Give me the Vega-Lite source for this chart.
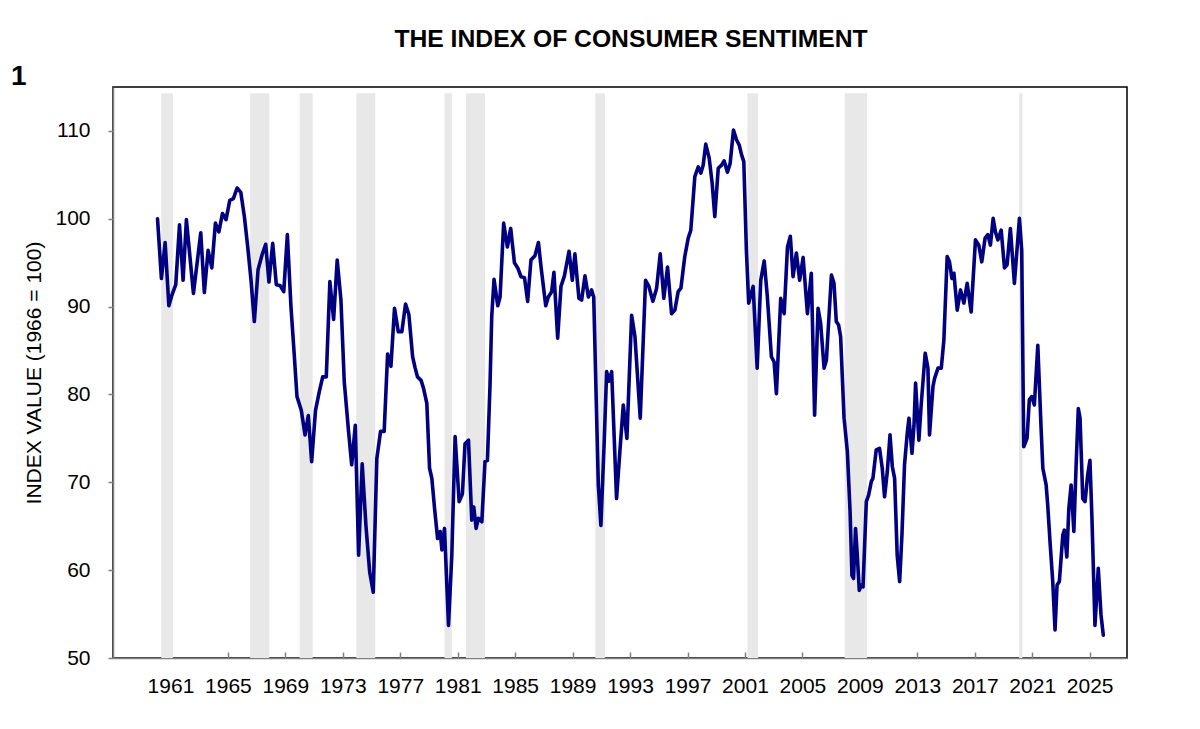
{
  "$schema": "https://vega.github.io/schema/vega-lite/v6.json",
  "background": "white",
  "padding": {"left": 10, "top": 26, "right": 5, "bottom": 5},
  "datasets": {
    "recessions": [
      {"start": 1960.36, "end": 1961.17},
      {"start": 1966.55, "end": 1967.88},
      {"start": 1970.0, "end": 1970.9},
      {"start": 1973.94, "end": 1975.26},
      {"start": 1980.08, "end": 1980.59},
      {"start": 1981.58, "end": 1982.9},
      {"start": 1990.58, "end": 1991.25},
      {"start": 2001.17, "end": 2001.92},
      {"start": 2007.94, "end": 2009.5},
      {"start": 2020.09, "end": 2020.32}
    ],
    "sentiment": [
      {"year": 1960.1, "value": 100.0},
      {"year": 1960.37, "value": 93.2},
      {"year": 1960.63, "value": 97.3},
      {"year": 1960.89, "value": 90.1},
      {"year": 1961.12, "value": 91.4},
      {"year": 1961.37, "value": 92.5},
      {"year": 1961.63, "value": 99.3},
      {"year": 1961.88, "value": 93.0},
      {"year": 1962.11, "value": 99.9},
      {"year": 1962.6, "value": 91.5},
      {"year": 1963.11, "value": 98.4},
      {"year": 1963.36, "value": 91.6},
      {"year": 1963.62, "value": 96.4},
      {"year": 1963.88, "value": 94.4},
      {"year": 1964.13, "value": 99.5},
      {"year": 1964.37, "value": 98.5},
      {"year": 1964.62, "value": 100.6},
      {"year": 1964.87, "value": 99.9},
      {"year": 1965.13, "value": 102.1},
      {"year": 1965.38, "value": 102.3},
      {"year": 1965.64, "value": 103.5},
      {"year": 1965.9, "value": 103.0},
      {"year": 1966.15, "value": 100.2},
      {"year": 1966.38, "value": 96.8},
      {"year": 1966.61, "value": 93.0},
      {"year": 1966.84, "value": 88.3},
      {"year": 1967.1, "value": 94.2},
      {"year": 1967.38, "value": 95.9},
      {"year": 1967.63, "value": 97.1},
      {"year": 1967.86, "value": 92.8},
      {"year": 1968.12, "value": 97.2},
      {"year": 1968.37, "value": 92.5},
      {"year": 1968.63, "value": 92.4},
      {"year": 1968.89, "value": 91.7},
      {"year": 1969.14, "value": 98.2},
      {"year": 1969.39, "value": 90.0},
      {"year": 1969.6, "value": 85.0},
      {"year": 1969.81, "value": 79.75},
      {"year": 1970.11, "value": 78.2},
      {"year": 1970.37, "value": 75.4},
      {"year": 1970.6, "value": 77.6},
      {"year": 1970.83, "value": 72.35},
      {"year": 1971.1, "value": 78.2},
      {"year": 1971.36, "value": 80.3},
      {"year": 1971.6, "value": 82.0},
      {"year": 1971.85, "value": 82.0},
      {"year": 1972.1, "value": 92.85},
      {"year": 1972.36, "value": 88.55},
      {"year": 1972.61, "value": 95.3},
      {"year": 1972.87, "value": 90.75},
      {"year": 1973.1, "value": 81.5},
      {"year": 1973.4, "value": 75.8},
      {"year": 1973.62, "value": 72.0},
      {"year": 1973.87, "value": 76.5},
      {"year": 1974.1, "value": 61.7},
      {"year": 1974.35, "value": 72.1},
      {"year": 1974.61, "value": 65.1},
      {"year": 1974.87, "value": 59.8},
      {"year": 1975.12, "value": 57.5},
      {"year": 1975.37, "value": 72.7},
      {"year": 1975.63, "value": 75.8},
      {"year": 1975.88, "value": 75.8},
      {"year": 1976.12, "value": 84.6},
      {"year": 1976.35, "value": 83.2},
      {"year": 1976.6, "value": 89.8},
      {"year": 1976.86, "value": 87.15},
      {"year": 1977.11, "value": 87.15},
      {"year": 1977.37, "value": 90.3},
      {"year": 1977.6, "value": 89.1},
      {"year": 1977.86, "value": 84.3},
      {"year": 1978.04, "value": 83.0},
      {"year": 1978.2, "value": 82.0},
      {"year": 1978.45, "value": 81.6},
      {"year": 1978.62, "value": 80.7},
      {"year": 1978.85, "value": 79.0},
      {"year": 1979.04, "value": 71.6},
      {"year": 1979.2, "value": 70.45},
      {"year": 1979.39, "value": 67.0},
      {"year": 1979.6, "value": 63.6},
      {"year": 1979.78, "value": 64.4},
      {"year": 1979.9, "value": 62.3},
      {"year": 1980.08, "value": 64.75},
      {"year": 1980.36, "value": 53.7},
      {"year": 1980.59, "value": 61.7},
      {"year": 1980.82, "value": 75.2},
      {"year": 1981.1, "value": 67.8},
      {"year": 1981.33, "value": 68.7},
      {"year": 1981.51, "value": 74.4},
      {"year": 1981.75, "value": 74.8},
      {"year": 1981.98, "value": 65.7},
      {"year": 1982.12, "value": 67.2},
      {"year": 1982.28, "value": 64.75},
      {"year": 1982.44, "value": 65.9},
      {"year": 1982.68, "value": 65.5},
      {"year": 1982.9, "value": 72.35},
      {"year": 1983.07, "value": 72.5},
      {"year": 1983.25, "value": 81.1},
      {"year": 1983.37, "value": 88.9},
      {"year": 1983.53, "value": 93.1},
      {"year": 1983.79, "value": 90.1},
      {"year": 1983.95, "value": 91.1},
      {"year": 1984.2, "value": 99.5},
      {"year": 1984.46, "value": 96.8},
      {"year": 1984.69, "value": 98.9},
      {"year": 1984.95, "value": 95.0},
      {"year": 1985.18, "value": 94.4},
      {"year": 1985.41, "value": 93.4},
      {"year": 1985.65, "value": 93.3},
      {"year": 1985.87, "value": 90.6},
      {"year": 1986.1, "value": 95.3},
      {"year": 1986.38, "value": 95.8},
      {"year": 1986.62, "value": 97.3},
      {"year": 1986.8, "value": 94.55},
      {"year": 1987.13, "value": 90.1},
      {"year": 1987.31, "value": 91.1},
      {"year": 1987.54, "value": 91.7},
      {"year": 1987.7, "value": 93.9},
      {"year": 1987.96, "value": 86.4},
      {"year": 1988.19, "value": 92.3},
      {"year": 1988.43, "value": 93.5},
      {"year": 1988.75, "value": 96.3},
      {"year": 1988.98, "value": 93.0},
      {"year": 1989.16, "value": 96.0},
      {"year": 1989.44, "value": 90.95},
      {"year": 1989.63, "value": 90.75},
      {"year": 1989.86, "value": 93.5},
      {"year": 1990.1, "value": 91.1},
      {"year": 1990.32, "value": 91.9},
      {"year": 1990.47, "value": 91.1},
      {"year": 1990.79, "value": 69.7},
      {"year": 1990.97, "value": 65.1},
      {"year": 1991.2, "value": 74.6},
      {"year": 1991.37, "value": 82.6},
      {"year": 1991.53, "value": 81.5},
      {"year": 1991.72, "value": 82.6},
      {"year": 1992.06, "value": 68.15},
      {"year": 1992.29, "value": 73.5},
      {"year": 1992.53, "value": 78.8},
      {"year": 1992.78, "value": 75.0},
      {"year": 1993.11, "value": 89.0},
      {"year": 1993.34, "value": 86.6},
      {"year": 1993.71, "value": 77.3},
      {"year": 1994.08, "value": 93.0},
      {"year": 1994.31, "value": 92.3},
      {"year": 1994.59, "value": 90.6},
      {"year": 1994.85, "value": 92.1},
      {"year": 1995.1, "value": 96.0},
      {"year": 1995.35, "value": 90.95},
      {"year": 1995.61, "value": 94.5},
      {"year": 1995.89, "value": 89.2},
      {"year": 1996.12, "value": 89.6},
      {"year": 1996.35, "value": 91.7},
      {"year": 1996.54, "value": 92.1},
      {"year": 1996.81, "value": 95.7},
      {"year": 1997.05, "value": 97.8},
      {"year": 1997.23, "value": 98.7},
      {"year": 1997.51, "value": 104.8},
      {"year": 1997.75, "value": 105.9},
      {"year": 1997.93, "value": 105.2},
      {"year": 1998.09, "value": 106.1},
      {"year": 1998.27, "value": 108.5},
      {"year": 1998.51, "value": 106.9},
      {"year": 1998.72, "value": 104.0},
      {"year": 1998.9, "value": 100.25},
      {"year": 1999.14, "value": 105.75},
      {"year": 1999.37, "value": 106.1},
      {"year": 1999.55, "value": 106.6},
      {"year": 1999.78, "value": 105.3},
      {"year": 1999.97, "value": 106.3},
      {"year": 2000.2, "value": 110.1},
      {"year": 2000.41, "value": 109.0},
      {"year": 2000.6, "value": 108.4},
      {"year": 2000.76, "value": 107.3},
      {"year": 2000.92, "value": 106.5},
      {"year": 2001.1, "value": 96.4},
      {"year": 2001.26, "value": 90.4},
      {"year": 2001.57, "value": 92.3},
      {"year": 2001.85, "value": 83.0},
      {"year": 2002.1, "value": 93.0},
      {"year": 2002.34, "value": 95.2},
      {"year": 2002.56, "value": 91.1},
      {"year": 2002.84, "value": 84.3},
      {"year": 2003.03, "value": 83.7},
      {"year": 2003.19, "value": 80.1},
      {"year": 2003.49, "value": 90.95},
      {"year": 2003.73, "value": 89.2},
      {"year": 2003.96, "value": 96.8},
      {"year": 2004.16, "value": 98.0},
      {"year": 2004.35, "value": 93.4},
      {"year": 2004.58, "value": 96.1},
      {"year": 2004.81, "value": 93.0},
      {"year": 2005.05, "value": 95.6},
      {"year": 2005.35, "value": 89.2},
      {"year": 2005.62, "value": 93.8},
      {"year": 2005.85, "value": 77.65},
      {"year": 2006.09, "value": 89.8},
      {"year": 2006.27, "value": 88.1},
      {"year": 2006.51, "value": 83.0},
      {"year": 2006.67, "value": 83.9},
      {"year": 2007.02, "value": 93.6},
      {"year": 2007.2, "value": 92.65},
      {"year": 2007.36, "value": 88.3},
      {"year": 2007.52, "value": 87.9},
      {"year": 2007.66, "value": 86.6},
      {"year": 2007.9, "value": 77.3},
      {"year": 2008.13, "value": 73.5},
      {"year": 2008.32, "value": 66.65},
      {"year": 2008.45, "value": 59.4},
      {"year": 2008.56, "value": 59.05},
      {"year": 2008.7, "value": 64.75},
      {"year": 2008.82, "value": 61.7},
      {"year": 2008.96, "value": 57.7},
      {"year": 2009.1, "value": 58.3},
      {"year": 2009.22, "value": 58.1},
      {"year": 2009.45, "value": 67.8},
      {"year": 2009.61, "value": 68.55},
      {"year": 2009.8, "value": 70.1},
      {"year": 2009.91, "value": 70.45},
      {"year": 2010.14, "value": 73.7},
      {"year": 2010.37, "value": 73.85},
      {"year": 2010.56, "value": 71.6},
      {"year": 2010.72, "value": 68.35},
      {"year": 2010.91, "value": 71.2},
      {"year": 2011.1, "value": 75.4},
      {"year": 2011.26, "value": 71.8},
      {"year": 2011.42, "value": 70.45},
      {"year": 2011.6, "value": 61.7},
      {"year": 2011.77, "value": 58.7},
      {"year": 2011.93, "value": 64.0},
      {"year": 2012.11, "value": 72.0},
      {"year": 2012.3, "value": 75.6},
      {"year": 2012.42, "value": 77.3},
      {"year": 2012.63, "value": 73.3},
      {"year": 2012.77, "value": 76.5},
      {"year": 2012.88, "value": 81.3},
      {"year": 2013.11, "value": 74.8},
      {"year": 2013.27, "value": 78.8},
      {"year": 2013.55, "value": 84.7},
      {"year": 2013.74, "value": 83.0},
      {"year": 2013.85, "value": 75.4},
      {"year": 2014.09, "value": 80.9},
      {"year": 2014.2, "value": 81.8},
      {"year": 2014.44, "value": 83.0},
      {"year": 2014.67, "value": 83.0},
      {"year": 2014.85, "value": 86.2},
      {"year": 2015.08, "value": 95.7},
      {"year": 2015.24, "value": 95.1},
      {"year": 2015.41, "value": 93.2},
      {"year": 2015.55, "value": 93.8},
      {"year": 2015.78, "value": 89.6},
      {"year": 2016.01, "value": 91.9},
      {"year": 2016.24, "value": 90.4},
      {"year": 2016.47, "value": 92.65},
      {"year": 2016.75, "value": 89.4},
      {"year": 2017.05, "value": 97.6},
      {"year": 2017.28, "value": 97.0},
      {"year": 2017.49, "value": 95.1},
      {"year": 2017.72, "value": 97.8},
      {"year": 2017.91, "value": 98.2},
      {"year": 2018.09, "value": 97.0},
      {"year": 2018.28, "value": 100.05},
      {"year": 2018.44, "value": 98.5},
      {"year": 2018.61, "value": 97.6},
      {"year": 2018.84, "value": 98.7},
      {"year": 2019.07, "value": 94.4},
      {"year": 2019.25, "value": 94.75},
      {"year": 2019.48, "value": 98.9},
      {"year": 2019.76, "value": 92.65},
      {"year": 2020.11, "value": 100.05},
      {"year": 2020.27, "value": 96.4},
      {"year": 2020.41, "value": 74.05},
      {"year": 2020.64, "value": 75.0},
      {"year": 2020.8, "value": 79.4},
      {"year": 2020.97, "value": 79.75},
      {"year": 2021.15, "value": 78.8},
      {"year": 2021.39, "value": 85.6},
      {"year": 2021.62, "value": 76.1},
      {"year": 2021.74, "value": 71.6},
      {"year": 2021.97, "value": 69.7},
      {"year": 2022.08, "value": 67.4},
      {"year": 2022.25, "value": 63.0},
      {"year": 2022.43, "value": 58.7},
      {"year": 2022.59, "value": 53.2},
      {"year": 2022.73, "value": 58.3},
      {"year": 2022.89, "value": 58.7},
      {"year": 2023.13, "value": 64.0},
      {"year": 2023.24, "value": 64.55},
      {"year": 2023.41, "value": 61.5},
      {"year": 2023.55, "value": 67.0},
      {"year": 2023.71, "value": 69.7},
      {"year": 2023.9, "value": 64.4},
      {"year": 2024.05, "value": 71.6},
      {"year": 2024.21, "value": 78.4},
      {"year": 2024.33, "value": 77.3},
      {"year": 2024.52, "value": 68.15},
      {"year": 2024.68, "value": 67.8},
      {"year": 2024.86, "value": 70.8},
      {"year": 2025.02, "value": 72.5},
      {"year": 2025.16, "value": 65.9},
      {"year": 2025.37, "value": 53.7},
      {"year": 2025.6, "value": 60.2},
      {"year": 2025.79, "value": 54.9},
      {"year": 2025.95, "value": 52.6}
    ]
  },
  "title": {
    "text": "THE INDEX OF CONSUMER SENTIMENT",
    "font": "Liberation Sans",
    "fontSize": 24.7,
    "fontWeight": "bold",
    "color": "black",
    "anchor": "middle",
    "offset": 11,
    "dx": 62
  },
  "vconcat": [
    {
      "width": 1014,
      "height": 571,
      "title": {
        "text": "1",
        "font": "Liberation Sans",
        "fontSize": 28,
        "fontWeight": "bold",
        "color": "black",
        "anchor": "start",
        "frame": "bounds",
        "offset": 2,
        "dx": -13,
        "dy": 6
      },
      "layer": [
        {
          "data": {"name": "recessions"},
          "mark": {"type": "rect", "color": "#e8e8e8"},
          "encoding": {
            "x": {"field": "start", "type": "quantitative"},
            "x2": {"field": "end"},
            "y": {"datum": 50},
            "y2": {"datum": 114.3}
          }
        },
        {
          "data": {"name": "sentiment"},
          "mark": {"type": "line", "color": "#000080", "strokeWidth": 3.6, "strokeJoin": "round", "strokeCap": "round"},
          "encoding": {
            "x": {
              "field": "year",
              "type": "quantitative",
              "scale": {"domain": [1957, 2027.6], "nice": false, "zero": false},
              "axis": {
                "title": null,
                "values": [1961, 1965, 1969, 1973, 1977, 1981, 1985, 1989, 1993, 1997, 2001, 2005, 2009, 2013, 2017, 2021, 2025],
                "format": "d",
                "labelFont": "Liberation Sans",
                "labelFontSize": 21,
                "labelColor": "black",
                "labelPadding": 23,
                "tickSize": -6,
                "tickColor": "#808080",
                "tickWidth": 1.5,
                "domainColor": "#808080",
                "domainWidth": 1.5,
                "grid": false,
                "labelFlush": false,
                "labelOverlap": false
              }
            },
            "y": {
              "field": "value",
              "type": "quantitative",
              "scale": {"domain": [50, 115], "nice": false, "zero": false},
              "axis": {
                "title": "INDEX VALUE (1966 = 100)",
                "titleFont": "Liberation Sans",
                "titleFontSize": 21,
                "titleFontWeight": "normal",
                "titleColor": "black",
                "titlePadding": 10,
                "values": [50, 60, 70, 80, 90, 100, 110],
                "labelFont": "Liberation Sans",
                "labelFontSize": 21,
                "labelColor": "black",
                "labelPadding": 18,
                "tickSize": 5,
                "tickColor": "#808080",
                "tickWidth": 1.5,
                "domainColor": "#808080",
                "domainWidth": 1.5,
                "grid": false
              }
            }
          }
        }
      ]
    }
  ],
  "config": {
    "view": {"stroke": "black", "strokeWidth": 1.5},
    "concat": {"spacing": 0}
  }
}
